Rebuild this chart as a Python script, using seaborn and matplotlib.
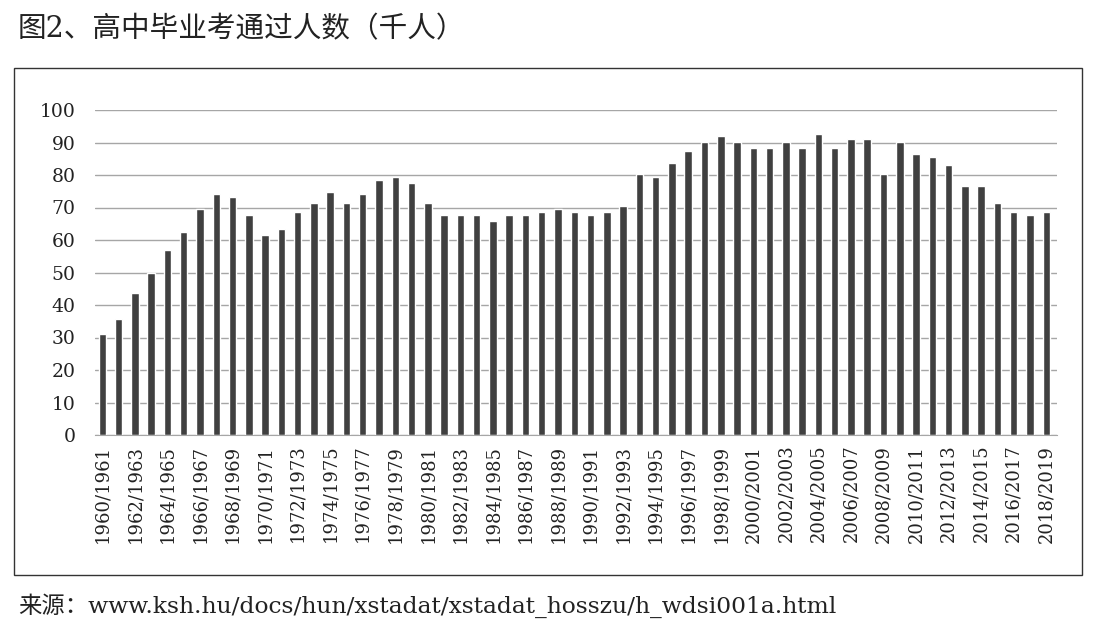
import pandas as pd
import matplotlib.pyplot as plt
import seaborn as sns
from matplotlib.patches import Rectangle

# School years 1960/1961 .. 2018/2019
start_years = list(range(1960, 2019))
school_years = [f"{y}/{y + 1}" for y in start_years]

# Passed final exams (thousand people)
passed = [
    31.0, 35.7, 43.7, 49.8, 56.9, 62.5, 69.5, 74.2, 73.2, 67.7,
    61.5, 63.4, 68.6, 71.4, 74.8, 71.4, 74.2, 78.5, 79.4, 77.5,
    71.4, 67.7, 67.7, 67.7, 65.8, 67.7, 67.7, 68.6, 69.5, 68.6,
    67.7, 68.6, 70.5, 80.3, 79.4, 83.7, 87.4, 90.2, 92.0, 90.2,
    88.3, 88.3, 90.2, 88.3, 92.6, 88.3, 91.1, 91.1, 80.3, 90.2,
    86.5, 85.5, 83.1, 76.6, 76.6, 71.4, 68.6, 67.7, 68.6,
]

y_ticks = list(range(0, 101, 10))

title = "图2、高中毕业考通过人数（千人）"
source = "来源：www.ksh.hu/docs/hun/xstadat/xstadat_hosszu/h_wdsi001a.html"

df = pd.DataFrame({"year": school_years, "passed": passed})

sns.set_style("white")
plt.rcParams['font.family'] = ['DejaVu Serif', 'Noto Sans CJK SC']

W, H = 1097, 640
fig = plt.figure(figsize=(W / 100, H / 100), dpi=100)
ax = fig.add_axes([95 / W, 1 - 435 / H, (1057 - 95) / W, (435 - 110) / H])

sns.barplot(data=df, x="year", y="passed", color="#404040", saturation=1,
            width=0.46, ax=ax)

ax.set_ylim(0, 100)
ax.set_xlim(-0.45, len(passed) - 0.34)
ax.set_yticks(y_ticks)
ax.set_yticklabels([str(v) for v in y_ticks], fontsize=13.5, color="#222222")
ax.set_xticks(range(0, len(passed), 2))
ax.set_xticklabels(school_years[::2], rotation=90, fontsize=13, color="#222222")
ax.tick_params(axis="y", length=0, pad=14)
ax.tick_params(axis="x", length=0, pad=7)
ax.set_xlabel("")
ax.set_ylabel("")

ax.grid(axis="y", color="#a6a6a6", linewidth=1)
ax.set_axisbelow(True)
for side in ["top", "right", "left"]:
    ax.spines[side].set_visible(False)
ax.spines["bottom"].set_color("#a6a6a6")

# outer frame around chart area
fig.patches.append(Rectangle((14 / W, 1 - 575 / H), (1082 - 14) / W, (575 - 68) / H,
                             transform=fig.transFigure, fill=False,
                             edgecolor="#333333", linewidth=1))

fig.text(18 / W, 1 - 29 / H, title, fontsize=20.6, va="center", ha="left", color="#222222")
fig.text(18 / W, 1 - 606 / H, source, fontsize=16.8, va="center", ha="left", color="#222222")

fig.savefig("out.png", dpi=100)
